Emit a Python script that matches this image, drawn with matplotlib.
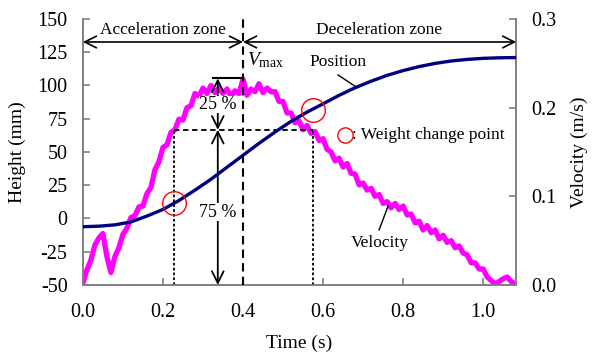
import numpy as np
import matplotlib
matplotlib.use("Agg")
from matplotlib import pyplot as plt

plt.rcParams['font.family'] = ['Liberation Serif', 'DejaVu Serif']
plt.rcParams['mathtext.fontset'] = 'custom'
plt.rcParams['mathtext.rm'] = 'Liberation Serif'
plt.rcParams['mathtext.it'] = 'Liberation Serif:italic'
plt.rcParams['axes.unicode_minus'] = False

# position (mm), read every 0.04 s
pos_t = [0.00, 0.04, 0.08, 0.12, 0.16, 0.20, 0.24, 0.28, 0.32, 0.36, 0.40, 0.44, 0.48, 0.52,
         0.56, 0.60, 0.64, 0.68, 0.72, 0.76, 0.80, 0.84, 0.88, 0.92, 0.96, 1.00, 1.04, 1.08]
pos_h = [-6.2, -5.8, -4.8, -2.6, 1.8, 6.8, 13.5, 21.3, 29.5, 38.5, 47.5, 56.5, 65.0, 73.0,
         80.0, 86.2, 92.6, 98.3, 103.2, 107.6, 111.2, 114.2, 116.6, 118.4, 119.6, 120.4, 120.8, 121.0]

# velocity (m/s), read every 0.01 s
vel = [0.002, 0.017, 0.028, 0.045, 0.053, 0.058, 0.032, 0.014, 0.032, 0.042,
       0.057, 0.064, 0.076, 0.078, 0.088, 0.089, 0.103, 0.110, 0.130, 0.139,
       0.155, 0.158, 0.172, 0.175, 0.187, 0.186, 0.200, 0.202, 0.216, 0.213,
       0.222, 0.216, 0.225, 0.217, 0.222, 0.216, 0.221, 0.213, 0.219, 0.216,
       0.232, 0.214, 0.221, 0.218, 0.227, 0.217, 0.222, 0.218, 0.218, 0.207,
       0.207, 0.194, 0.194, 0.183, 0.185, 0.175, 0.180, 0.171, 0.173, 0.163,
       0.165, 0.153, 0.150, 0.140, 0.143, 0.133, 0.137, 0.126, 0.125, 0.113,
       0.115, 0.107, 0.109, 0.100, 0.102, 0.092, 0.094, 0.087, 0.092, 0.085,
       0.089, 0.079, 0.080, 0.070, 0.072, 0.062, 0.067, 0.059, 0.062, 0.052,
       0.056, 0.048, 0.050, 0.042, 0.044, 0.036, 0.034, 0.025, 0.025, 0.018,
       0.018, 0.009, 0.005, 0.001, 0.004, 0.007, 0.009, 0.004, 0.001]
vel_t = [i * 0.01 for i in range(len(vel))]

t_vmax = 0.40
v_top = 0.233
v_75 = 0.175
t_change = [0.2275, 0.575]
h_change = [11.5, 81.6]

fig = plt.figure(figsize=(5.92, 3.58), dpi=100)
ax = fig.add_axes([0.140, 0.204, 0.732, 0.743])
ax2 = ax.twinx()
ax.set_zorder(ax2.get_zorder() + 1)
ax.patch.set_visible(False)

ax2.plot(vel_t, vel, color='#ff00ff', lw=3.8, zorder=2)
ax.plot(pos_t, pos_h, color='#000080', lw=2.4, zorder=3)

ax.set_xlim(0, 1.0825)
ax.set_ylim(-50, 150)
ax2.set_ylim(0, 0.3)
ax.set_xticks([0, 0.2, 0.4, 0.6, 0.8, 1.0])
ax.set_xticklabels(['0.0', '0.2', '0.4', '0.6', '0.8', '1.0'])
ax.set_yticks(range(-50, 151, 25))
ax2.set_yticks([0, 0.1, 0.2, 0.3])
ax2.set_yticklabels(['0.0', '0.1', '0.2', '0.3'])

for a in (ax, ax2):
    a.spines['top'].set_visible(False)
    for s in ('left', 'right', 'bottom'):
        a.spines[s].set_color('#808080')
        a.spines[s].set_linewidth(1.2)
    a.tick_params(direction='in', length=5, color='#808080', labelsize=14.5, width=1.2)
ax.tick_params(axis='x', pad=13)
ax.tick_params(axis='y', pad=11)
ax2.tick_params(axis='y', pad=11)

ax.set_xlabel('Time (s)', fontsize=14, labelpad=9)
ax.set_ylabel('Height (mm)', fontsize=14, labelpad=8)
ax2.set_ylabel('Velocity (m/s)', fontsize=14, labelpad=10)

# zones
ax.axvline(t_vmax, color='black', ls=(0, (4, 2.5)), lw=1.5, zorder=4)
arr = dict(arrowstyle='<->,head_length=0.7,head_width=0.35', lw=1.2, color='black',
           shrinkA=0, shrinkB=0, mutation_scale=12)
ax.annotate('', xy=(0, 132.7), xytext=(t_vmax, 132.7), arrowprops=arr)
ax.annotate('', xy=(t_vmax, 132.7), xytext=(1.0825, 132.7), arrowprops=arr)
ax.text(0.2, 142, 'Acceleration zone', ha='center', va='center', fontsize=12.5)
ax.text(0.74, 142, 'Deceleration zone', ha='center', va='center', fontsize=12.5)
ax.text(0.41, 119, r'$V_{\mathrm{max}}$', ha='left', va='center', fontsize=14)

# 25 % / 75 % levels
t_arrow = 0.337
ax2.plot([0.325, t_vmax], [v_top, v_top], color='black', lw=1.5, zorder=5)
ax2.plot([t_change[0], t_change[1]], [v_75, v_75], color='black', lw=1.3,
         ls=(0, (3, 2)), zorder=5)
for tc in t_change:
    ax2.plot([tc, tc], [0, v_75], color='black', lw=1.3, ls=(0, (1.5, 1.2)), zorder=5)
one = dict(arrowstyle='<->,head_length=0.7,head_width=0.35', lw=1.3, color='black',
           shrinkA=0, shrinkB=0, mutation_scale=12)
ax2.annotate('', xy=(t_arrow, v_top), xytext=(t_arrow, v_75), arrowprops=one, zorder=5)
ax2.annotate('', xy=(t_arrow, v_75), xytext=(t_arrow, 0), arrowprops=one, zorder=5)
ax2.text(t_arrow, 0.2035, '25 %', ha='center', va='center', fontsize=13, zorder=6,
         bbox=dict(facecolor='white', edgecolor='none', pad=0.3))
ax2.text(t_arrow, 0.082, '75 %', ha='center', va='center', fontsize=13, zorder=6,
         bbox=dict(facecolor='white', edgecolor='none', pad=0.3))

# weight change points
ax.plot(t_change, h_change, 'o', ms=17, mfc='none', mec='red', mew=1.0, zorder=6)
ax.plot([0.655], [63], 'o', ms=11, mfc='none', mec='red', mew=1.0)
ax.text(0.672, 63, ': Weight change point', ha='left', va='center', fontsize=12.5)

# curve labels
ax.text(0.567, 118, 'Position', ha='left', va='center', fontsize=12.5)
ax.plot([0.6375, 0.685], [107.9, 98.4], color='black', lw=1.0)
ax.text(0.742, -18.5, 'Velocity', ha='center', va='center', fontsize=12.5)
ax.plot([0.74, 0.7625], [-8.6, 9.4], color='black', lw=1.0)

fig.savefig('out.png', dpi=100)
